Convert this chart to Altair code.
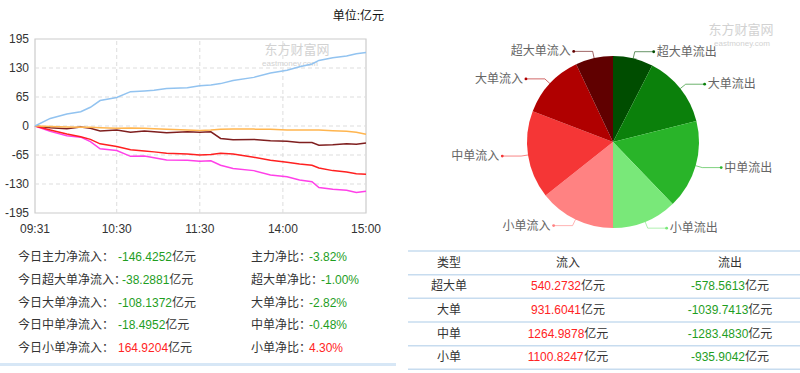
import altair as alt
import pandas as pd

# ---------------- line chart data (minute index 1 = 09:31, 240 = 15:00) ----------------
minutes = [1, 12, 24, 34, 41, 48, 60, 70, 80, 87, 96, 111, 120, 128, 135, 144, 159, 171, 183, 192, 201, 206, 216, 226, 233, 240]
small_net = [0, 17, 27, 32, 42, 57, 64, 77, 78.5, 80, 84, 86, 90, 92, 95, 102, 109, 119, 125, 133, 139, 147, 153, 157, 162, 164.92]
medium_net = [0, -1, -2, -3, -3, -4, -5, -4.5, -5, -6, -7.5, -9, -10, -9, -7.5, -7, -7, -7.5, -9, -9, -9, -9, -10.5, -12, -14, -18.5]
xl_net = [0, -4, -6, -2, -5, -11, -9, -14, -11, -13, -15, -13, -14, -13, -28, -31, -30, -33, -34, -37, -37, -43, -42, -40, -41, -38.29]
large_net = [0, -9, -18, -24, -30, -40, -46, -53, -56, -58, -61, -63, -65, -64, -61, -63, -70, -77, -81, -85, -88, -94, -100, -103, -107, -108.14]
main_net = [0, -12, -22, -25, -35, -51, -55, -68, -67, -71, -76, -77, -79, -78, -88, -95, -100, -110, -114, -121, -125, -138, -142, -144, -149, -146.43]

series_names = ["主力净流入", "超大单净流入", "大单净流入", "中单净流入", "小单净流入"]
series_colors = ["#ff40e8", "#7f1f1f", "#ff2020", "#ffb54f", "#92c3f0"]

y_ticks = [-195, -130, -65, 0, 65, 130, 195]
x_tick_minutes = [1, 60, 120, 180, 240]
x_tick_labels = ["09:31", "10:30", "11:30", "14:00", "15:00"]

# ---------------- summary text ----------------
net_labels = ["今日主力净流入：", "今日超大单净流入：", "今日大单净流入：", "今日中单净流入：", "今日小单净流入："]
net_values = [-146.4252, -38.2881, -108.1372, -18.4952, 164.9204]
ratio_labels = ["主力净比：", "超大单净比：", "大单净比：", "中单净比：", "小单净比："]
ratio_values = [-3.82, -1.00, -2.82, -0.48, 4.30]

# ---------------- flow table / pie ----------------
flow_types = ["超大单", "大单", "中单", "小单"]
inflows = [540.2732, 931.6041, 1264.9878, 1100.8247]
outflows = [-578.5613, -1039.7413, -1283.4830, -935.9042]
table_header = ["类型", "流入", "流出"]

pie_names = ["超大单流出", "大单流出", "中单流出", "小单流出", "小单流入", "中单流入", "大单流入", "超大单流入"]
pie_values = [578.5613, 1039.7413, 1283.4830, 935.9042, 1100.8247, 1264.9878, 931.6041, 540.2732]
pie_colors = ["#004d00", "#0b800b", "#29b429", "#79e879", "#ff8282", "#f53636", "#b00000", "#600000"]

GREEN = "#1f9e1f"
RED = "#ff2424"
DARK = "#333333"
FONT = "Liberation Sans, Noto Sans CJK SC"
CJK = "Noto Sans CJK SC"

# ================= line chart layer =================
rows = []
for name, vals in zip(series_names, [main_net, xl_net, large_net, medium_net, small_net]):
    for m, v in zip(minutes, vals):
        rows.append({"minute": m, "value": v, "series": name})
line_df = pd.DataFrame(rows)

LX = alt.Scale(domain=[1, 240], range=[35, 366], nice=False, zero=False)
LY = alt.Scale(domain=[-195, 195], range=[213, 39], nice=False, zero=False)

def lx_d(v):
    return alt.XDatum(v, scale=LX, axis=None, type="quantitative")

def ly_d(v):
    return alt.YDatum(v, scale=LY, axis=None, type="quantitative")

one = pd.DataFrame({"a": [0]})

frame = alt.Chart(one).mark_rect(fillOpacity=0, stroke="#cccccc", strokeWidth=1.2).encode(
    x=lx_d(1), x2=alt.X2Datum(240), y=ly_d(-195), y2=alt.Y2Datum(195)
)
hgrid = alt.Chart(pd.DataFrame({"gy": [t for t in y_ticks if abs(t) < 195]})).mark_rule(
    color="#dddddd", strokeDash=[4, 3], strokeWidth=1
).encode(x=lx_d(1), x2=alt.X2Datum(240), y=alt.Y("gy:Q", scale=LY, axis=None))
vgrid = alt.Chart(pd.DataFrame({"gx": x_tick_minutes[1:-1]})).mark_rule(
    color="#dddddd", strokeDash=[4, 3], strokeWidth=1
).encode(x=alt.X("gx:Q", scale=LX, axis=None), y=ly_d(-195), y2=alt.Y2Datum(195))
ylab = alt.Chart(pd.DataFrame({"t": y_ticks, "lbl": [str(t) for t in y_ticks]})).mark_text(
    align="right", baseline="middle", dx=-6, fontSize=12, color=DARK, font=FONT
).encode(x=lx_d(1), y=alt.Y("t:Q", scale=LY, axis=None), text="lbl:N")
xlab = alt.Chart(pd.DataFrame({"m": x_tick_minutes, "lbl": x_tick_labels})).mark_text(
    align="center", baseline="middle", dy=16, fontSize=12, color=DARK, font=FONT
).encode(x=alt.X("m:Q", scale=LX, axis=None), y=ly_d(-195), text="lbl:N")
lines = alt.Chart(line_df).mark_line(strokeWidth=1.5).encode(
    x=alt.X("minute:Q", scale=LX, axis=None),
    y=alt.Y("value:Q", scale=LY, axis=None),
    color=alt.Color("series:N", scale=alt.Scale(domain=series_names, range=series_colors), legend=None),
)
unit = alt.Chart(one).mark_text(
    text="单位:亿元", align="right", baseline="middle", dx=18, dy=-23, fontSize=12, color="#111111", font=FONT
).encode(x=lx_d(240), y=ly_d(195))

line_layer = alt.layer(frame, hgrid, vgrid, ylab, xlab, lines, unit)

# ================= text tables (pixel space) =================
PX = alt.Scale(domain=[0, 800], range=[0, 800], nice=False, zero=False)
PY = alt.Scale(domain=[0, 373], range=[0, 373], nice=False, zero=False)

def px(f):
    return alt.X(f, scale=PX, axis=None)

def py(f):
    return alt.Y(f, scale=PY, axis=None)

left_df = pd.DataFrame({
    "row": list(range(5)), "label": net_labels, "value": net_values,
    "vs": [f"{v:.4f}" for v in net_values], "rlabel": ratio_labels,
    "ratio": ratio_values, "rs": [f"{v:.2f}%" for v in ratio_values],
})
left_base = alt.Chart(left_df).transform_calculate(
    ty="257 + datum.row * 22.75",
    lx="18",
    vx="18 + max(100, 12 * length(datum.label) - 4)",
    vw="datum.value < 0 ? 4 + 3.34 + 6.67 * (length(datum.vs) - 2) : 3.34 + 6.67 * (length(datum.vs) - 1)",
    ux="datum.vx + datum.vw",
    rlx="251",
    rx="251 + 12 * length(datum.rlabel) - 2",
)
tprops = dict(align="left", baseline="middle", fontSize=12, font=FONT)
l_label = left_base.mark_text(color=DARK, **tprops).encode(x=px("lx:Q"), y=py("ty:Q"), text="label:N")
l_value = left_base.mark_text(**tprops).encode(
    x=px("vx:Q"), y=py("ty:Q"), text="vs:N",
    color=alt.condition("datum.value < 0", alt.value(GREEN), alt.value(RED)),
)
l_unit = left_base.mark_text(color=DARK, text="亿元", **tprops).encode(x=px("ux:Q"), y=py("ty:Q"))
l_rlabel = left_base.mark_text(color=DARK, **tprops).encode(x=px("rlx:Q"), y=py("ty:Q"), text="rlabel:N")
l_ratio = left_base.mark_text(**tprops).encode(
    x=px("rx:Q"), y=py("ty:Q"), text="rs:N",
    color=alt.condition("datum.ratio < 0", alt.value(GREEN), alt.value(RED)),
)
l_divider = alt.Chart(one).mark_rule(color="#d7e7f6", strokeWidth=3).encode(
    x=alt.XDatum(0, scale=PX, axis=None, type="quantitative"), x2=alt.X2Datum(396),
    y=alt.YDatum(364.5, scale=PY, axis=None, type="quantitative"),
)

tbl_df = pd.DataFrame({
    "row": list(range(4)), "type": flow_types,
    "ins": [f"{v:.4f}" for v in inflows], "outs": [f"{v:.4f}" for v in outflows],
})
tbl_base = alt.Chart(tbl_df).transform_calculate(
    ty="251 + (datum.row + 1.5) * 23.66",
    cx="449",
    inw="3.34 + 6.67 * (length(datum.ins) - 1)",
    inx="568 - (datum.inw + 24) / 2",
    inux="datum.inx + datum.inw",
    outw="4 + 3.34 + 6.67 * (length(datum.outs) - 2)",
    outx="730 - (datum.outw + 24) / 2",
    outux="datum.outx + datum.outw",
)
t_type = tbl_base.mark_text(align="center", baseline="middle", fontSize=12, font=FONT, color=DARK).encode(
    x=px("cx:Q"), y=py("ty:Q"), text="type:N")
t_in = tbl_base.mark_text(color=RED, **tprops).encode(x=px("inx:Q"), y=py("ty:Q"), text="ins:N")
t_inu = tbl_base.mark_text(color=DARK, text="亿元", **tprops).encode(x=px("inux:Q"), y=py("ty:Q"))
t_out = tbl_base.mark_text(color=GREEN, **tprops).encode(x=px("outx:Q"), y=py("ty:Q"), text="outs:N")
t_outu = tbl_base.mark_text(color=DARK, text="亿元", **tprops).encode(x=px("outux:Q"), y=py("ty:Q"))

hdr = alt.Chart(pd.DataFrame({"col": [0, 1, 2], "h": table_header})).transform_calculate(
    cx="[449, 568, 730][datum.col]", ty="251 + 0.5 * 23.66"
).mark_text(align="center", baseline="middle", fontSize=12, font=FONT, color=DARK).encode(
    x=px("cx:Q"), y=py("ty:Q"), text="h:N")

t_lines = alt.Chart(pd.DataFrame({"k": list(range(6))})).transform_calculate(
    ly="251 + datum.k * 23.66", x0="408", x1="800"
).mark_rule(color="#c7dcef", strokeWidth=1.5).encode(x=px("x0:Q"), x2="x1:Q", y=py("ly:Q"))

text_layer = alt.layer(l_divider, l_label, l_value, l_unit, l_rlabel, l_ratio,
                       t_lines, hdr, t_type, t_in, t_inu, t_out, t_outu)

# ================= pie layer =================
R = 86
CX, CY = 613, 142
QX = alt.Scale(domain=[-1, 1], range=[CX - R, CX + R], nice=False, zero=False)
QY = alt.Scale(domain=[-1, 1], range=[CY + R, CY - R], nice=False, zero=False)
cscale = alt.Scale(domain=pie_names, range=pie_colors)

pie_df = pd.DataFrame({"name": pie_names, "value": pie_values, "order": list(range(8))})
pie_base = alt.Chart(pie_df).transform_window(
    cum="sum(value)", sort=[alt.SortField("order")]
).transform_joinaggregate(total="sum(value)").transform_calculate(
    mid="(datum.cum - datum.value / 2) / datum.total * 2 * PI",
    ex="sin(datum.mid)", ey="cos(datum.mid)",
    bx="1.08 * sin(datum.mid)", by="1.08 * cos(datum.mid)",
    tx="datum.bx + (sin(datum.mid) >= 0 ? 0.22 : -0.22)",
)
arcs = alt.Chart(pie_df).mark_arc(outerRadius=R).encode(
    theta=alt.Theta("value:Q", stack=True),
    order=alt.Order("order:Q"),
    color=alt.Color("name:N", scale=cscale, legend=None),
    x=alt.XDatum(0, scale=QX, axis=None, type="quantitative"),
    y=alt.YDatum(0, scale=QY, axis=None, type="quantitative"),
)
lead1 = pie_base.mark_rule(strokeWidth=1, opacity=0.6).encode(
    x=alt.X("ex:Q", scale=QX, axis=None), y=alt.Y("ey:Q", scale=QY, axis=None),
    x2="bx:Q", y2="by:Q", color=alt.Color("name:N", scale=cscale, legend=None))
lead2 = pie_base.mark_rule(strokeWidth=1, opacity=0.6).encode(
    x=alt.X("bx:Q", scale=QX, axis=None), y=alt.Y("by:Q", scale=QY, axis=None),
    x2="tx:Q", color=alt.Color("name:N", scale=cscale, legend=None))
dots = pie_base.mark_circle(size=8, opacity=1).encode(
    x=alt.X("tx:Q", scale=QX, axis=None), y=alt.Y("by:Q", scale=QY, axis=None),
    color=alt.Color("name:N", scale=cscale, legend=None))
lab_r = pie_base.transform_filter("datum.ex >= 0").mark_text(
    align="left", baseline="middle", dx=3, fontSize=12, font=CJK, color="#666666"
).encode(x=alt.X("tx:Q", scale=QX, axis=None), y=alt.Y("by:Q", scale=QY, axis=None), text="name:N")
lab_l = pie_base.transform_filter("datum.ex < 0").mark_text(
    align="right", baseline="middle", dx=-3, fontSize=12, font=CJK, color="#666666"
).encode(x=alt.X("tx:Q", scale=QX, axis=None), y=alt.Y("by:Q", scale=QY, axis=None), text="name:N")

pie_layer = alt.layer(arcs, lead1, lead2, dots, lab_r, lab_l)

# ================= watermarks =================
wm = alt.layer(
    alt.Chart(one).mark_text(text="东方财富网", fontSize=13, color="#d2d2d2", font=CJK,
                             align="center", baseline="middle").encode(x=alt.value(297), y=alt.value(50)),
    alt.Chart(one).mark_text(text="eastmoney.com", fontSize=8, color="#d2d2d2", font=FONT,
                             align="center", baseline="middle").encode(x=alt.value(290), y=alt.value(64)),
    alt.Chart(one).mark_text(text="东方财富网", fontSize=13, color="#d2d2d2", font=CJK,
                             align="center", baseline="middle").encode(x=alt.value(741), y=alt.value(30)),
    alt.Chart(one).mark_text(text="eastmoney.com", fontSize=8, color="#d2d2d2", font=FONT,
                             align="center", baseline="middle").encode(x=alt.value(742), y=alt.value(44)),
)

chart = alt.layer(wm, line_layer, text_layer, pie_layer).resolve_scale(
    x="independent", y="independent", color="independent"
).properties(
    width=800, height=373, padding=0, autosize=alt.AutoSizeParams(type="none")
).configure_view(strokeWidth=0)

chart.save("out.html", embed_options={"renderer": "svg", "actions": False})
